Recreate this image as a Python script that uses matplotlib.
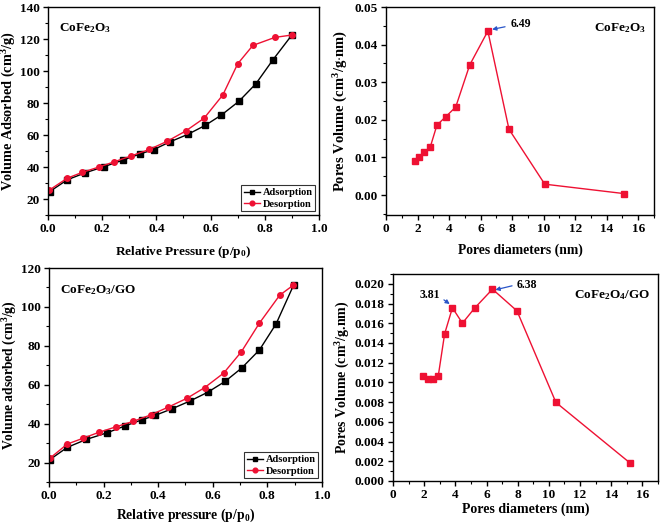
import matplotlib.pyplot as plt
from matplotlib.ticker import MultipleLocator

plt.rcParams['font.family'] = 'Liberation Serif'
plt.rcParams['font.weight'] = 'bold'
plt.rcParams['axes.labelweight'] = 'bold'
plt.rcParams['mathtext.fontset'] = 'custom'
plt.rcParams['mathtext.rm'] = 'Liberation Serif:bold'
plt.rcParams['mathtext.it'] = 'Liberation Serif:bold'
plt.rcParams['mathtext.bf'] = 'Liberation Serif:bold'

RED = '#ee1133'
BLUE = '#2a55c8'

# CoFe2O3 isotherm
p1_ads = [0.006, 0.071, 0.136, 0.208, 0.275, 0.340, 0.390, 0.450, 0.517, 0.580, 0.640, 0.704, 0.767, 0.830, 0.900]
v1_ads = [24.6, 32.0, 36.3, 40.3, 44.2, 48.2, 50.9, 55.7, 60.5, 66.0, 72.5, 81.0, 92.0, 107.0, 122.5]
p1_des = [0.004, 0.071, 0.127, 0.188, 0.245, 0.308, 0.374, 0.439, 0.508, 0.576, 0.645, 0.700, 0.756, 0.837, 0.900]
v1_des = [25.5, 33.0, 36.7, 40.0, 43.3, 47.0, 51.0, 56.0, 62.5, 70.5, 85.0, 104.5, 116.0, 121.0, 122.5]

# CoFe2O3 pore size distribution
d1 = [1.81, 2.10, 2.44, 2.80, 3.23, 3.78, 4.42, 5.31, 6.46, 7.80, 10.07, 15.09]
pv1 = [0.0090, 0.0102, 0.0114, 0.0127, 0.0186, 0.0208, 0.0234, 0.0346, 0.0436, 0.0175, 0.0029, 0.0004]

# CoFe2O3/GO isotherm
p2_ads = [0.002, 0.067, 0.137, 0.211, 0.278, 0.339, 0.388, 0.450, 0.516, 0.581, 0.645, 0.706, 0.771, 0.832, 0.896]
v2_ads = [21.4, 27.8, 31.9, 35.2, 38.8, 41.9, 44.2, 47.6, 51.6, 56.1, 61.7, 68.6, 77.9, 91.3, 111.2]
p2_des = [0.004, 0.067, 0.123, 0.182, 0.244, 0.309, 0.373, 0.437, 0.505, 0.570, 0.640, 0.705, 0.770, 0.845, 0.895]
v2_des = [22.3, 29.5, 32.4, 35.5, 38.3, 41.2, 44.5, 48.5, 53.0, 58.5, 66.0, 77.0, 91.5, 106.0, 111.2]

# CoFe2O4/GO pore size distribution
d2 = [1.91, 2.23, 2.54, 2.90, 3.31, 3.81, 4.45, 5.23, 6.38, 7.95, 10.45, 15.21]
pv2 = [0.01061, 0.0103, 0.0103, 0.01064, 0.01493, 0.01757, 0.01601, 0.01753, 0.01946, 0.01726, 0.00797, 0.00182]

fig = plt.figure(figsize=(6.61, 5.27), dpi=100)
ax1 = fig.add_axes([0.0726, 0.592, 0.4100, 0.3947])
ax2 = fig.add_axes([0.5840, 0.592, 0.4054, 0.3947])
ax3 = fig.add_axes([0.0741, 0.0854, 0.413, 0.406])
ax4 = fig.add_axes([0.5946, 0.0873, 0.4009, 0.3928])

TICK = 9.5


def style(ax):
    for s in ax.spines.values():
        s.set_linewidth(1.0)
    ax.tick_params(which='both', direction='out', top=False, right=False, labelsize=TICK, pad=2.5)
    ax.tick_params(which='major', length=3.5, width=1.0)
    ax.tick_params(which='minor', length=2, width=0.8)
    for lab in ax.get_xticklabels() + ax.get_yticklabels():
        lab.set_fontweight('bold')


def isotherm(ax, pa, va, pd_, vd, ylim, title, xlabel, ylabel, xls, yls, xpad):
    ax.plot(pa, va, '-s', color='black', lw=1.0, ms=3.8, label='Adsorption')
    ax.plot(pd_, vd, '-o', color=RED, lw=1.0, ms=4.0, label='Desorption')
    ax.set_xlim(0, 1.0)
    ax.set_ylim(*ylim)
    ax.xaxis.set_major_locator(MultipleLocator(0.2))
    ax.xaxis.set_minor_locator(MultipleLocator(0.1))
    ax.yaxis.set_major_locator(MultipleLocator(20))
    ax.yaxis.set_minor_locator(MultipleLocator(10))
    ax.xaxis.set_major_formatter(plt.FuncFormatter(lambda v, _: f'{v:.1f}'))
    ax.set_xlabel(xlabel, fontsize=xls, fontweight='bold', labelpad=xpad)
    ax.set_ylabel(ylabel, fontsize=yls, fontweight='bold', labelpad=1)
    ax.text(0.04, 0.93, title, transform=ax.transAxes, fontsize=9.5, va='top', fontweight='bold')
    leg = ax.legend(loc='lower right', prop={'size': 7.5, 'weight': 'bold'}, frameon=True,
                    fancybox=False, edgecolor='black', handlelength=1.5, handletextpad=0.3,
                    borderpad=0.25, labelspacing=0.2, borderaxespad=0.35, markerscale=0.85)
    leg.get_frame().set_linewidth(0.8)
    style(ax)


isotherm(ax1, p1_ads, v1_ads, p1_des, v1_des, (10, 140), 'CoFe$_2$O$_3$',
         'Relative Pressure (p/p$_0$)', 'Volume Adsorbed (cm$^3$/g)', 9.5, 10.3, 6)

isotherm(ax3, p2_ads, v2_ads, p2_des, v2_des, (10, 120), 'CoFe$_2$O$_3$/GO',
         'Relative pressure (p/p$_0$)', 'Volume adsorbed (cm$^3$/g)', 9.8, 9.8, 3)

# pore size distributions
ax2.plot(d1, pv1, '-s', color=RED, lw=1.0, ms=3.8)
ax2.set_xlim(0, 17)
ax2.set_ylim(-0.0053, 0.05)
ax2.xaxis.set_major_locator(MultipleLocator(2))
ax2.xaxis.set_minor_locator(MultipleLocator(1))
ax2.yaxis.set_major_locator(MultipleLocator(0.01))
ax2.yaxis.set_minor_locator(MultipleLocator(0.005))
ax2.yaxis.set_major_formatter(plt.FuncFormatter(lambda v, _: f'{v:.2f}'))
ax2.set_xlabel('Pores diameters (nm)', fontsize=9.8, fontweight='bold', labelpad=6)
ax2.set_ylabel('Pores Volume (cm$^3$/g$\\cdot$nm)', fontsize=10.5, fontweight='bold', labelpad=3)
ax2.text(0.97, 0.93, 'CoFe$_2$O$_3$', transform=ax2.transAxes, fontsize=9.5, va='top', ha='right',
         fontweight='bold')
ax2.annotate('6.49', xy=(d1[8] + 0.1, pv1[8] + 0.0003), xytext=(7.9, 0.0456),
             fontsize=8.5, fontweight='bold', va='center', ha='left',
             arrowprops=dict(arrowstyle='-|>', color=BLUE, lw=0.9, mutation_scale=6))
style(ax2)

ax4.plot(d2, pv2, '-s', color=RED, lw=1.0, ms=3.8)
ax4.set_xlim(0, 17)
ax4.set_ylim(0, 0.021)
ax4.xaxis.set_major_locator(MultipleLocator(2))
ax4.xaxis.set_minor_locator(MultipleLocator(1))
ax4.yaxis.set_major_locator(MultipleLocator(0.002))
ax4.yaxis.set_minor_locator(MultipleLocator(0.001))
ax4.yaxis.set_major_formatter(plt.FuncFormatter(lambda v, _: f'{v:.3f}'))
ax4.set_xlabel('Pores diameters (nm)', fontsize=10, fontweight='bold', labelpad=1)
ax4.set_ylabel('Pores Volume (cm$^3$/g.nm)', fontsize=10, fontweight='bold', labelpad=2)
ax4.text(0.97, 0.93, 'CoFe$_2$O$_4$/GO', transform=ax4.transAxes, fontsize=9.5, va='top', ha='right',
         fontweight='bold')
ax4.annotate('3.81', xy=(d2[5] - 0.1, pv2[5] + 0.0003), xytext=(1.7, 0.0189),
             fontsize=8.5, fontweight='bold', va='center', ha='left',
             arrowprops=dict(arrowstyle='-|>', color=BLUE, lw=0.9, mutation_scale=6,
                             shrinkA=1, shrinkB=1, relpos=(1.0, 0.3)))
ax4.annotate('6.38', xy=(d2[8] + 0.1, pv2[8] - 0.0001), xytext=(7.9, 0.0199),
             fontsize=8.5, fontweight='bold', va='center', ha='left',
             arrowprops=dict(arrowstyle='-|>', color=BLUE, lw=0.9, mutation_scale=6,
                             shrinkA=1, shrinkB=1, relpos=(0.0, 0.5)))
style(ax4)

fig.savefig('out.png', dpi=100)
